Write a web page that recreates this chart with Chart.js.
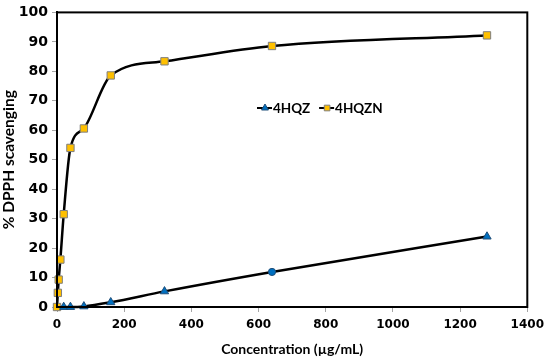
<!DOCTYPE html>
<html>
<head>
<meta charset="utf-8">
<script src="https://cdn.jsdelivr.net/npm/chart.js@4.4.0/dist/chart.umd.min.js"></script>
<style>
  html, body { margin: 0; padding: 0; background: #fff; }
  #wrap { width: 550px; height: 358px; position: relative; }
</style>
</head>
<body>
<div id="wrap"><canvas id="dpph-chart"></canvas></div>
<script>
// concentrations (µg/mL) and % DPPH scavenging
const concZN = [0, 2.5, 5, 10, 20, 40, 80, 160, 320, 640, 1280];
const hqznValues = [0, 4.8, 9.3, 16.1, 31.5, 54.0, 60.6, 78.6, 83.4, 88.6, 92.2];
const concZ = [20, 40, 80, 160, 320, 640, 1280];
const hqzValues = [0, 0, 0.2, 1.6, 5.3, 11.9, 23.9];
const seriesNames = ["4HQZ", "4HQZN"];
const xTicks = [0, 200, 400, 600, 800, 1000, 1200, 1400];
const yTicks = [0, 10, 20, 30, 40, 50, 60, 70, 80, 90, 100];

const TITLE_FONT = "Lato, 'Liberation Sans', sans-serif";
const TICK_FONT = "'DejaVu Sans', sans-serif";

const toPoints = (xs, ys) => xs.map((x, i) => ({ x: x, y: ys[i] }));

// the 640 point of 4HQZ is drawn as a circle in the original
const hqzStyle = (c) => (c.dataIndex === 5 ? "circle" : "triangle");
const hqzRadius = (c) => (c.dataIndex === 5 ? 3.6 : 4.8);

// box around the plot area, like the Excel frame
const frame = {
    id: "frame",
    afterDraw(chart) {
        const { ctx, chartArea: a } = chart;
        ctx.save();
        ctx.strokeStyle = "#000";
        ctx.lineWidth = 2;
        ctx.strokeRect(a.left, a.top, a.right - a.left, a.bottom - a.top);
        ctx.restore();
    },
};

// legend floating inside the plot, as in the original
const innerLegend = {
    id: "innerLegend",
    afterDatasetsDraw(chart) {
        const { ctx } = chart;
        let x = 257;
        const y = 108;
        ctx.save();
        ctx.font = "bold 13.5px " + TITLE_FONT;
        ctx.textBaseline = "middle";
        chart.data.datasets.forEach((ds, i) => {
            ctx.strokeStyle = "#000";
            ctx.lineWidth = 2;
            ctx.beginPath();
            ctx.moveTo(x, y);
            ctx.lineTo(x + 15, y);
            ctx.stroke();
            const style = i === 0 ? "triangle" : ds.pointStyle;
            ctx.fillStyle = ds.pointBackgroundColor;
            ctx.strokeStyle = ds.pointBorderColor;
            ctx.lineWidth = 1;
            Chart.helpers.drawPoint(ctx, { pointStyle: style, radius: 4, borderWidth: 1 }, x + 8, y);
            ctx.fillStyle = "#000";
            ctx.fillText(ds.label, x + 16, y + 1);
            x += 16 + ctx.measureText(ds.label).width + 9;
        });
        ctx.restore();
    },
};

const ctx = document.getElementById("dpph-chart");

new Chart(ctx, {
    type: "scatter",
    data: {
        datasets: [
            {
                label: seriesNames[0],
                data: toPoints(concZ, hqzValues),
                showLine: true,
                clip: false,
                borderColor: "#000",
                borderWidth: 2.5,
                cubicInterpolationMode: "monotone",
                pointStyle: hqzStyle,
                pointRadius: hqzRadius,
                pointBackgroundColor: "#0070C0",
                pointBorderColor: "#1F4E79",
                pointBorderWidth: 1,
            },
            {
                label: seriesNames[1],
                data: toPoints(concZN, hqznValues),
                showLine: true,
                clip: false,
                borderColor: "#000",
                borderWidth: 2.5,
                cubicInterpolationMode: "monotone",
                pointStyle: "rect",
                pointRadius: 5.2,
                pointBackgroundColor: "#FFC000",
                pointBorderColor: "#7F7F7F",
                pointBorderWidth: 1,
            },
        ],
    },
    options: {
        responsive: true,
        maintainAspectRatio: false,
        animation: false,
        layout: { padding: { top: 10, right: 18, left: 0, bottom: 0 } },
        scales: {
            x: {
                type: "linear",
                min: 0,
                max: 1400,
                afterBuildTicks: (scale) => {
                    scale.ticks = xTicks.map((v) => ({ value: v }));
                },
                afterFit: (scale) => {
                    scale.height = 51;
                },
                ticks: {
                    color: "#000",
                    font: { family: TICK_FONT, size: 12, weight: "bold" },
                    padding: 6,
                    maxRotation: 0,
                    callback: (v) => String(v),
                },
                grid: {
                    drawOnChartArea: false,
                    drawTicks: true,
                    tickLength: 5,
                    color: "#A6A6A6",
                },
                border: { color: "#000", width: 2 },
                title: {
                    display: true,
                    text: "Concentration (µg/mL)",
                    color: "#000",
                    font: { family: TITLE_FONT, size: 14, weight: "bold" },
                    padding: { top: 0, bottom: 0 },
                },
            },
            y: {
                type: "linear",
                min: 0,
                max: 100,
                afterBuildTicks: (scale) => {
                    scale.ticks = yTicks.map((v) => ({ value: v }));
                },
                afterFit: (scale) => {
                    scale.width = 57;
                },
                ticks: {
                    color: "#000",
                    font: { family: TICK_FONT, size: 14, weight: "bold" },
                    padding: 4,
                    callback: (v) => String(v),
                },
                grid: {
                    drawOnChartArea: false,
                    drawTicks: true,
                    tickLength: 5,
                    color: "#A6A6A6",
                },
                border: { color: "#000", width: 2 },
                title: {
                    display: true,
                    text: "% DPPH scavenging",
                    color: "#000",
                    font: { family: TITLE_FONT, size: 15.5, weight: "bold" },
                    padding: { top: 0, bottom: 2 },
                },
            },
        },
        plugins: {
            legend: { display: false },
            tooltip: { enabled: false },
        },
    },
    plugins: [frame, innerLegend],
});
</script>
</body>
</html>
